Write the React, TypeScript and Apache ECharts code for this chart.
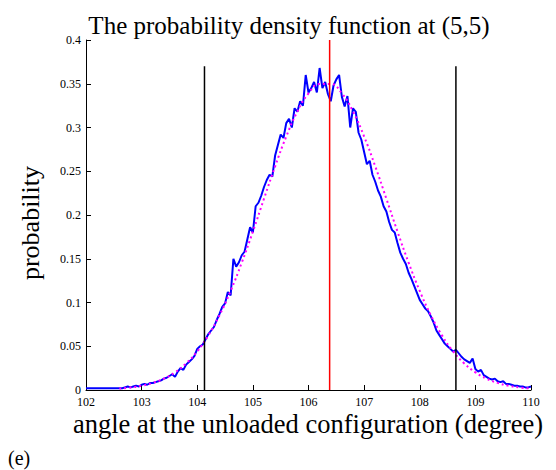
import React, { useEffect, useRef } from "react";
import * as echarts from "echarts";

// Histogram (estimated density), bins from 102 in steps of 0.05
const BIN_START = 102;
const BIN_STEP = 0.05;
const densityValues = [
  0.002, 0.002, 0.002, 0.002, 0.002, 0.002, 0.002, 0.002, 0.002, 0.002, 0.002, 0.002, 0.002, 0.002,
  0.003, 0.004, 0.003, 0.004, 0.005, 0.004,
  0.006, 0.007, 0.006, 0.008, 0.008, 0.009, 0.010, 0.011, 0.013, 0.014,
  0.016, 0.018, 0.015, 0.021, 0.025, 0.023, 0.029, 0.032, 0.035, 0.039,
  0.047, 0.050, 0.052, 0.058, 0.064, 0.068, 0.072, 0.080, 0.087, 0.095,
  0.099, 0.112, 0.108, 0.150, 0.141, 0.146, 0.154, 0.158, 0.172, 0.186,
  0.180, 0.210, 0.214, 0.222, 0.232, 0.240, 0.246, 0.244, 0.268, 0.280,
  0.292, 0.288, 0.305, 0.310, 0.300, 0.322, 0.318, 0.330, 0.325, 0.360,
  0.340, 0.345, 0.352, 0.340, 0.368, 0.345, 0.352, 0.338, 0.330, 0.348,
  0.355, 0.360, 0.335, 0.324, 0.336, 0.300, 0.322, 0.318, 0.294, 0.286,
  0.272, 0.258, 0.262, 0.246, 0.238, 0.228, 0.221, 0.210, 0.204, 0.192,
  0.183, 0.180, 0.168, 0.157, 0.150, 0.144, 0.134, 0.127, 0.119, 0.111,
  0.103, 0.098, 0.093, 0.090, 0.084, 0.077, 0.068, 0.063, 0.058, 0.053,
  0.050, 0.047, 0.044, 0.046, 0.042, 0.038, 0.035, 0.033, 0.031, 0.036,
  0.024, 0.021, 0.023, 0.017, 0.015, 0.013, 0.012, 0.013, 0.010, 0.009,
  0.010, 0.007, 0.007, 0.006, 0.005, 0.005, 0.004, 0.004, 0.003, 0.003,
  0.004,
];

// Fitted normal density, sampled from 102.6 in steps of 0.2
const FIT_START = 102.6;
const FIT_STEP = 0.2;
const fitValues = [
  0.0017, 0.0029, 0.0049, 0.0081, 0.013, 0.0202, 0.0304, 0.0442, 0.0624, 0.0854,
  0.1132, 0.1455, 0.181, 0.2186, 0.2556, 0.2897, 0.3183, 0.3389, 0.3496, 0.3496,
  0.3389, 0.3183, 0.2897, 0.2556, 0.2186, 0.181, 0.1455, 0.1132, 0.0854, 0.0624,
  0.0442, 0.0304, 0.0202, 0.013, 0.0081, 0.0049, 0.0029, 0.0017,
];

// Reference lines
const meanAngle = 106.38;
const boundAngles = [104.13, 108.65];
const boundTop = 0.37;
const meanTop = 0.4;

const xTicks = { min: 102, max: 110, interval: 1 };
const yTicks = { min: 0, max: 0.4, interval: 0.05 };

const titleText = "The probability density function at (5,5)";
const xName = "angle at the unloaded configuration (degree)";
const yName = "probability";
const panelLabel = "(e)";

const FONT = "Liberation Serif";

export default function App() {
  const ref = useRef<HTMLDivElement>(null);

  useEffect(() => {
    document.body.style.margin = "0";
    if (!ref.current) return;
    const chart = echarts.init(ref.current, undefined, { renderer: "svg" });

    const histData = densityValues.map((v, i) => [
      +(BIN_START + i * BIN_STEP).toFixed(2),
      v,
    ]);
    const fitData = fitValues.map((v, i) => [
      +(FIT_START + i * FIT_STEP).toFixed(2),
      v,
    ]);

    const axisCommon = {
      axisLine: { show: true, lineStyle: { color: "#000", width: 1 } },
      axisTick: { show: true, inside: true, length: 5, lineStyle: { color: "#000", width: 1 } },
      splitLine: { show: false },
    };

    const vline = (x: number, top: number, color: string) => ({
      type: "line",
      data: [
        [x, 0],
        [x, top],
      ],
      symbol: "none",
      silent: true,
      z: 5,
      lineStyle: { color, width: 1.5 },
    });

    chart.setOption({
      animation: false,
      backgroundColor: "#fff",
      grid: { left: 86, right: 25, top: 40, bottom: 80, containLabel: false },
      xAxis: {
        type: "value",
        min: xTicks.min,
        max: xTicks.max,
        interval: xTicks.interval,
        ...axisCommon,
        axisLabel: { color: "#000", fontFamily: FONT, fontSize: 12, margin: 6 },
      },
      yAxis: {
        type: "value",
        min: yTicks.min,
        max: yTicks.max,
        interval: yTicks.interval,
        ...axisCommon,
        axisLabel: {
          color: "#000",
          fontFamily: FONT,
          fontSize: 12,
          margin: 5,
          formatter: (v: number) => String(+v.toFixed(2)),
        },
      },
      graphic: [
        {
          type: "text",
          x: 289,
          y: 25,
          style: {
            text: titleText,
            fill: "#000",
            font: `25px "${FONT}"`,
            align: "center",
            verticalAlign: "middle",
          },
        },
        {
          type: "text",
          x: 308,
          y: 424,
          style: {
            text: xName,
            fill: "#000",
            font: `26.5px "${FONT}"`,
            align: "center",
            verticalAlign: "middle",
          },
        },
        {
          type: "text",
          x: 30,
          y: 223,
          rotation: Math.PI / 2,
          style: {
            text: yName,
            fill: "#000",
            font: `26px "${FONT}"`,
            align: "center",
            verticalAlign: "middle",
          },
        },
        {
          type: "text",
          x: 8,
          y: 458,
          style: {
            text: panelLabel,
            fill: "#000",
            font: `20px "${FONT}"`,
            align: "left",
            verticalAlign: "middle",
          },
        },
      ],
      series: [
        {
          type: "line",
          data: histData,
          symbol: "none",
          z: 2,
          lineStyle: { color: "#0000ff", width: 2 },
        },
        {
          type: "line",
          data: fitData,
          symbol: "none",
          smooth: true,
          z: 3,
          lineStyle: { color: "#ff00ff", width: 2, type: [2, 3] },
        },
        vline(boundAngles[0], boundTop, "#000"),
        vline(boundAngles[1], boundTop, "#000"),
        vline(meanAngle, meanTop, "#ff0000"),
      ],
    });

    return () => chart.dispose();
  }, []);

  return <div ref={ref} style={{ width: 556, height: 470 }} />;
}
